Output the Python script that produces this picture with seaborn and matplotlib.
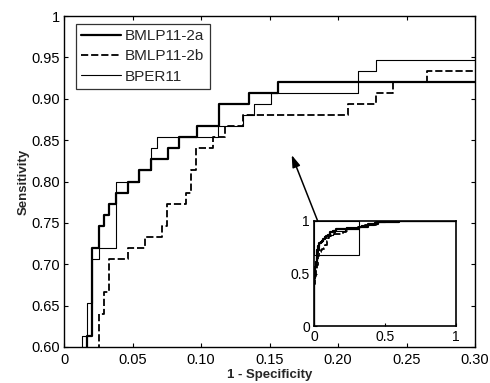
import numpy as np
import pandas as pd
import seaborn as sns
import matplotlib
matplotlib.use("Agg")
import matplotlib.pyplot as plt
from matplotlib.patches import Rectangle

# step curves: x where the curve jumps, y = new sensitivity level (steps-post)
x_2a = [0.0, 0.0, 0.004, 0.008, 0.012, 0.0166, 0.0207, 0.0253, 0.029, 0.033, 0.0377,
        0.0465, 0.0547, 0.0633, 0.0757, 0.0842, 0.0968, 0.1134, 0.1353, 0.1564,
        0.32, 0.38, 0.45, 0.6, 1.0]
y_2a = [0.0, 0.46, 0.52, 0.56, 0.59, 0.6133, 0.72, 0.7467, 0.76, 0.7733, 0.7867,
        0.80, 0.8133, 0.8267, 0.84, 0.8533, 0.8667, 0.8933, 0.9067, 0.92,
        0.947, 0.973, 0.987, 1.0, 1.0]

x_2b = [0.0, 0.0, 0.006, 0.012, 0.02, 0.0253, 0.029, 0.0331, 0.0465, 0.0591, 0.0713,
        0.075, 0.089, 0.0925, 0.0964, 0.109, 0.1175, 0.1304, 0.207, 0.2277, 0.2399,
        0.2652, 0.31, 0.36, 0.44, 0.55, 1.0]
y_2b = [0.0, 0.40, 0.48, 0.54, 0.58, 0.64, 0.6667, 0.7067, 0.72, 0.7333, 0.7467,
        0.7733, 0.7867, 0.8133, 0.84, 0.8533, 0.8667, 0.88, 0.8933, 0.9067, 0.92,
        0.9333, 0.947, 0.96, 0.987, 1.0, 1.0]

x_per = [0.0, 0.0, 0.004, 0.008, 0.0129, 0.0166, 0.0207, 0.0253, 0.0377, 0.0547,
         0.0633, 0.0676, 0.1127, 0.1304, 0.139, 0.151, 0.2148, 0.2277,
         0.33, 0.42, 0.5, 1.0]
y_per = [0.0, 0.47, 0.53, 0.57, 0.6133, 0.6533, 0.7067, 0.72, 0.80, 0.8133,
         0.84, 0.8533, 0.8667, 0.88, 0.8933, 0.9067, 0.9333, 0.9467,
         0.96, 0.987, 1.0, 1.0]

names = ["BMLP11-2a", "BMLP11-2b", "BPER11"]
styles = {"BMLP11-2a": dict(lw=1.6, ls="-"),
          "BMLP11-2b": dict(lw=1.3, ls=(0, (4, 1.6))),
          "BPER11": dict(lw=0.8, ls="-")}

df = pd.concat([
    pd.DataFrame({"fpr": x_2a, "tpr": y_2a, "model": names[0]}),
    pd.DataFrame({"fpr": x_2b, "tpr": y_2b, "model": names[1]}),
    pd.DataFrame({"fpr": x_per, "tpr": y_per, "model": names[2]}),
])

sns.set_theme(style="ticks")
plt.rcParams["font.family"] = ["Liberation Sans", "DejaVu Sans"]

fig = plt.figure(figsize=(4.9, 3.83), dpi=100)
ax = fig.add_axes([64 / 490, 36 / 383, 411 / 490, 331 / 383])


def draw(a):
    for n in names:
        sns.lineplot(data=df[df["model"] == n], x="fpr", y="tpr", ax=a,
                     estimator=None, sort=False, drawstyle="steps-post",
                     color="black", label=n, linewidth=styles[n]["lw"],
                     linestyle=styles[n]["ls"])


draw(ax)
ax.set_xlim(0, 0.30)
ax.set_ylim(0.60, 1.0)
ax.set_xticks(np.arange(0, 0.31, 0.05))
ax.set_xticklabels(["0", "0.05", "0.10", "0.15", "0.20", "0.25", "0.30"])
ax.set_yticks(np.arange(0.60, 1.001, 0.05))
ax.set_yticklabels(["0.60", "0.65", "0.70", "0.75", "0.80", "0.85", "0.90", "0.95", "1"])
ax.tick_params(direction="in", length=3, width=0.8, labelsize=10.5, pad=3,
               top=True, right=True, colors="black")
ax.tick_params(axis="x", pad=4)
for s in ax.spines.values():
    s.set_linewidth(1.0)
    s.set_color("black")
ax.set_xlabel("1 - Specificity", fontsize=9.5, fontweight="bold", labelpad=2)
ax.set_ylabel("Sensitivity", fontsize=9.5, fontweight="bold", labelpad=1)

leg = ax.legend(loc="upper left", bbox_to_anchor=(0.028, 0.977), fontsize=11,
                frameon=True, fancybox=False, handlelength=2.6,
                handletextpad=0.3, labelspacing=0.42, borderpad=0.35,
                borderaxespad=0)
leg.get_frame().set_edgecolor("black")
leg.get_frame().set_linewidth(0.9)

ax.annotate("", xy=(0.1662, 0.832), xytext=(0.1869, 0.745),
            arrowprops=dict(arrowstyle="-|>,head_length=0.6,head_width=0.2",
                            color="black", lw=1.1,
                            mutation_scale=12, shrinkA=0, shrinkB=0),
            zorder=10)

# inset with the full curves
ins = fig.add_axes([314 / 490, (383 - 326) / 383, 142 / 490, 105 / 383])
draw(ins)
ins.get_legend().remove()
ins.set_xlim(0, 1)
ins.set_ylim(0, 1)
ins.set_xticks([0, 0.5, 1])
ins.set_xticklabels(["0", "0.5", "1"])
ins.set_yticks([0, 0.5, 1])
ins.set_yticklabels(["0", "0.5", "1"])
ins.tick_params(direction="in", length=2.5, width=0.8, labelsize=10, pad=3,
                colors="black")
ins.set_xlabel("")
ins.set_ylabel("")
for s in ins.spines.values():
    s.set_linewidth(1.2)
    s.set_color("black")
ins.add_patch(Rectangle((0, 0.675), 0.315, 0.325, fill=False, ec="black", lw=0.8))

fig.savefig("out.png", dpi=100)
